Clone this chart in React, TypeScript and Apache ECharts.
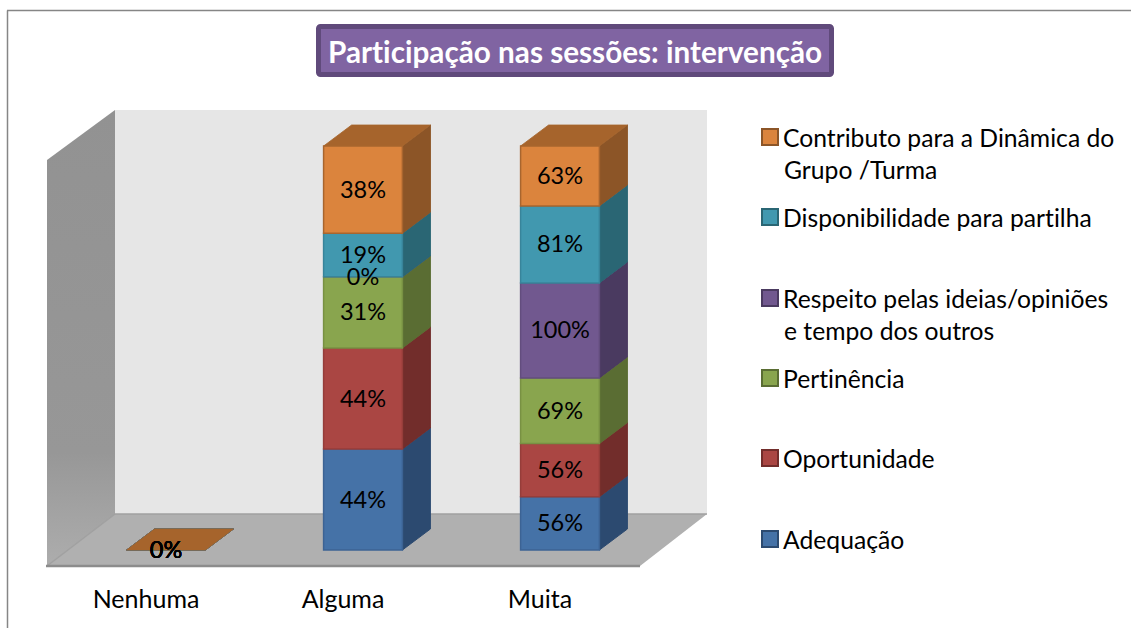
import React, { useEffect, useRef } from "react";
import * as echarts from "echarts";

const titleText = "Participação nas sessões: intervenção";
const categories = ["Nenhuma", "Alguma", "Muita"];
const seriesNames = [
  "Adequação",
  "Oportunidade",
  "Pertinência",
  "Respeito pelas ideias/opiniões e tempo dos outros",
  "Disponibilidade para partilha",
  "Contributo para a Dinâmica do Grupo /Turma",
];
const adequacao = [0, 44, 56];
const oportunidade = [0, 44, 56];
const pertinencia = [0, 31, 69];
const respeito = [0, 0, 100];
const disponibilidade = [0, 19, 81];
const contributo = [0, 38, 63];
const allValues = [adequacao, oportunidade, pertinencia, respeito, disponibilidade, contributo];

const legendFirstLines = [
  "Adequação",
  "Oportunidade",
  "Pertinência",
  "Respeito pelas ideias/opiniões",
  "Disponibilidade para partilha",
  "Contributo para a Dinâmica do",
];
const legendSecondLines = ["", "", "", "e tempo dos outros", "", "Grupo /Turma"];
const legendCenters = [540, 459, 379, 299, 218, 138];

const front = ["#4572a7", "#aa4643", "#89a54e", "#71588f", "#4198af", "#db843d"];
const side = ["#2c4a70", "#722d2b", "#5a6d33", "#4a3a60", "#2a6674", "#8c5527"];
const topFace = ["#3a5f8b", "#8e3a38", "#728a41", "#5e4977", "#367f92", "#a6642c"];
const edge = ["#3c6394", "#963d3a", "#789143", "#634d7e", "#38849a", "#a8652e"];

const FONT = "Lato";
const DX = 28;
const DY = 21;

function buildData(s: number) {
  return categories.map((_, c) => {
    const total = allValues.reduce((acc, arr) => acc + arr[c], 0);
    let before = 0;
    for (let i = 0; i < s; i++) before += allValues[i][c];
    const start = total ? (before / total) * 100 : 0;
    const end = total ? ((before + allValues[s][c]) / total) * 100 : 0;
    return [c, start, end, allValues[s][c]];
  });
}

function makeRenderItem(s: number) {
  return (_: any, api: any) => {
    const c = api.value(0);
    const p0 = api.coord([c, api.value(1)]);
    const p1 = api.coord([c, api.value(2)]);
    const w = api.size([1, 0])[0] * 0.4;
    const l = p0[0] - w / 2;
    const r = p0[0] + w / 2;
    const b = p0[1];
    const t = p1[1];
    const hasHeight = b - t > 0.01;
    const children: any[] = [];
    if (hasHeight) {
      children.push({
        type: "polygon",
        shape: { points: [[r, b], [r + DX, b - DY], [r + DX, t - DY], [r, t]] },
        style: { fill: side[s], stroke: side[s], lineWidth: 1 },
      });
    }
    children.push({
      type: "polygon",
      shape: { points: [[l, t], [r, t], [r + DX, t - DY], [l + DX, t - DY]] },
      style: { fill: topFace[s], stroke: topFace[s], lineWidth: 0.8 },
    });
    if (hasHeight) {
      children.push({
        type: "rect",
        shape: { x: l, y: t, width: r - l, height: b - t },
        style: { fill: front[s], stroke: edge[s], lineWidth: 1.5 },
      });
    }
    children.push({
      type: "text",
      z2: 20,
      style: {
        x: (l + r) / 2,
        y: (b + t) / 2 - 1,
        text: api.value(3) + "%",
        fill: "#000000",
        font: `23.5px ${FONT}`,
        align: "center",
        verticalAlign: "middle",
      },
    });
    return { type: "group", children };
  };
}

export default function App() {
  const ref = useRef<HTMLDivElement>(null);
  useEffect(() => {
    const chart = echarts.init(ref.current!, null, { renderer: "svg" });
    const option: any = {
      animation: false,
      backgroundColor: "#ffffff",
      title: {
        text: titleText,
        left: 318,
        top: 26,
        padding: [10, 9, 9, 10],
        backgroundColor: "#8064a2",
        borderColor: "#604a7b",
        borderWidth: 5,
        borderRadius: 2,
        textStyle: { color: "#ffffff", fontFamily: FONT, fontWeight: "bold", fontSize: 29.7 },
      },
      grid: { left: 67.5, top: 146, width: 591, height: 404 },
      xAxis: {
        type: "category",
        data: categories,
        axisLine: { show: false },
        axisTick: { show: false },
        axisLabel: {
          margin: 35,
          padding: [0, 40, 0, 0],
          color: "#000000",
          fontFamily: FONT,
          fontSize: 25,
        },
      },
      yAxis: { type: "value", min: 0, max: 100, show: false },
      legend: seriesNames.map((name, i) => ({
        left: 761,
        top: legendCenters[i] - 17,
        padding: 0,
        itemWidth: 16,
        itemHeight: 16,
        itemGap: 7,
        selectedMode: false,
        data: [
          {
            name,
            icon: "rect",
            itemStyle: { color: front[i], borderColor: side[i], borderWidth: 2 },
          },
        ],
        formatter: () => legendFirstLines[i],
        textStyle: { color: "#000000", fontFamily: FONT, fontSize: 24.7, lineHeight: 28, padding: [0, 0, 4, 0] },
      })),
      graphic: [
        { type: "line", silent: true, shape: { x1: 7.5, y1: 10.5, x2: 7.5, y2: 628 }, style: { stroke: "#868686", lineWidth: 1.5 } },
        { type: "line", silent: true, shape: { x1: 7, y1: 10.5, x2: 1131, y2: 10.5 }, style: { stroke: "#868686", lineWidth: 1.5 } },
        { type: "polygon", silent: true, shape: { points: [[115, 110], [707, 110], [707, 514], [115, 514]] }, style: { fill: "#e6e6e6" } },
        {
          type: "polygon",
          silent: true,
          shape: { points: [[47, 160], [115, 110], [115, 514], [47, 566]] },
          style: {
            fill: {
              type: "linear", x: 0, y: 0, x2: 0, y2: 1,
              colorStops: [{ offset: 0, color: "#929292" }, { offset: 0.75, color: "#979797" }, { offset: 1, color: "#adadad" }],
            },
          },
        },
        { type: "polygon", silent: true, shape: { points: [[47, 566], [640, 566], [707, 514], [115, 514]] }, style: { fill: "#b0b0b0" } },
        { type: "line", silent: true, shape: { x1: 115, y1: 514, x2: 707, y2: 514 }, style: { stroke: "#a0a0a0", lineWidth: 1.5 } },
        { type: "line", silent: true, shape: { x1: 47, y1: 566, x2: 115, y2: 514 }, style: { stroke: "#a0a0a0", lineWidth: 1.5 } },
        { type: "line", silent: true, shape: { x1: 46, y1: 566, x2: 640, y2: 566 }, style: { stroke: "#8c8c8c", lineWidth: 2.5 } },
        ...legendSecondLines
          .map((text, i) => ({ text, i }))
          .filter((d) => d.text)
          .map((d) => ({
            type: "text",
            silent: true,
            style: {
              x: 784,
              y: legendCenters[d.i] + 31,
              text: d.text,
              fill: "#000000",
              font: `24.7px ${FONT}`,
              verticalAlign: "middle",
            },
          })),
      ],
      series: seriesNames.map((name, s) => ({
        name,
        type: "custom",
        coordinateSystem: "cartesian2d",
        silent: true,
        itemStyle: { color: front[s] },
        encode: { x: 0, y: [1, 2] },
        data: buildData(s),
        renderItem: makeRenderItem(s),
      })),
    };
    chart.setOption(option);
    return () => chart.dispose();
  }, []);
  return (
    <div
      ref={ref}
      style={{ position: "fixed", left: 0, top: 0, width: 1131, height: 628, fontVariantLigatures: "none" }}
    />
  );
}
